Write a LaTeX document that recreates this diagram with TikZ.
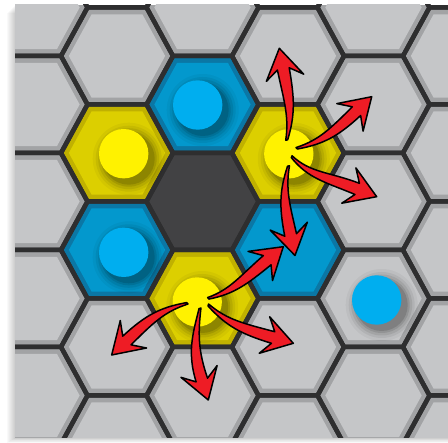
\documentclass[tikz,border=0pt]{standalone}
\usetikzlibrary{calc}
\definecolor{face}{HTML}{C5C6C8}
\definecolor{bevel}{HTML}{A2A3A5}
\definecolor{edgec}{HTML}{2E2E2F}
\definecolor{yband}{HTML}{C0B100}
\definecolor{yface}{HTML}{DCCF00}
\definecolor{ypiece}{HTML}{FFF200}
\definecolor{bband}{HTML}{0B77A5}
\definecolor{bface}{HTML}{0398CD}
\definecolor{bpiece}{HTML}{00AEEF}
\definecolor{hole}{HTML}{424244}
\definecolor{arrowred}{HTML}{EE1C25}
\newcommand{\hexat}[3]{(#1-56*#3,#2) -- (#1-29.5*#3,#2-48.5*#3) -- (#1+29.5*#3,#2-48.5*#3) -- (#1+56*#3,#2) -- (#1+29.5*#3,#2+48.5*#3) -- (#1-29.5*#3,#2+48.5*#3) -- cycle}
\newcommand{\piece}[3]{%
  \foreach \r/\o in {36/0.04,33/0.06,30.5/0.08,28/0.1,26/0.13}{\fill[black,opacity=\o] (#1+5,#2+5) circle[radius=\r pt];}
  \fill[#3] (#1,#2) circle[radius=24.7pt];}
\newcommand{\redarrow}[6]{%
  \pgfmathsetmacro\du{(#1-#3)*cos(#5)+(#2-#4)*sin(#5)}%
  \pgfmathsetmacro\dv{-(#1-#3)*sin(#5)+(#2-#4)*cos(#5)}%
  \pgfmathsetmacro\ca{0.45*\du-11}%
  \pgfmathsetmacro\cb{0.75*\du}%
  \pgfmathsetmacro\cv{0.6*\dv+#6}%
  \pgfmathsetmacro\rot{0-(#5)}%
  \begin{scope}[shift={(#3,#4)},rotate=\rot]
    \filldraw[redarr] (0,0) -- (-30,-19) -- (-21,-6)
      .. controls (\ca,-5.5) and (\cb,\cv-3) .. (\du,\dv-1)
      -- (\du,\dv+1)
      .. controls (\cb,\cv+3) and (\ca,5.5) .. (-21,6)
      -- (-30,19) -- cycle;
  \end{scope}}
\tikzset{redarr/.style={fill=arrowred,draw=black,line width=1.5pt,line join=round}}
\begin{document}
\begin{tikzpicture}[x=1pt,y=-1pt]
\useasboundingbox (0,0) rectangle (448,443);
\fill[white] (0,0) rectangle (448,443);
\foreach \k in {1,...,8}{\fill[black,opacity=0.025] (15-\k,5+\k) rectangle (448,438+0.6*\k);}
\begin{scope}
\clip (15,5) rectangle (448,438);
\fill[bevel] (15,5) rectangle (448,438);
\foreach \cx/\oy in {31.5/104.5,117/153,202.5/104.5,288/153,373.5/104.5,459/153}{
  \foreach \n in {-2,...,3}{
    \pgfmathsetmacro\cy{\oy+97*\n}
    \fill[face] \hexat{\cx}{\cy}{0.86};
  }}
\foreach \cx/\cy/\bc/\fc in {202.5/104.5/bband/bface,117/250/bband/bface,288/250/bband/bface,117/153/yband/yface,288/153/yband/yface,202.5/298.5/yband/yface}{
  \fill[\bc] \hexat{\cx}{\cy}{1};
  \fill[\fc] \hexat{\cx}{\cy}{0.86};
}
\fill[hole] \hexat{202.5}{201.5}{1};
\foreach \cx/\oy in {31.5/104.5,117/153,202.5/104.5,288/153,373.5/104.5,459/153}{
  \foreach \n in {-2,...,3}{
    \pgfmathsetmacro\cy{\oy+97*\n}
    \draw[edgec,line width=4.5pt] \hexat{\cx}{\cy}{1};
  }}
\piece{197.7}{105}{bpiece}
\piece{123.7}{153.7}{ypiece}
\piece{288.8}{153.8}{ypiece}
\piece{123.7}{252.3}{bpiece}
\piece{197.2}{302}{ypiece}
\piece{376.7}{300}{bpiece}
\redarrow{286.7}{140}{279.3}{48.3}{-101}{6}
\redarrow{296.7}{148.3}{371.7}{96.7}{-43.6}{7}
\redarrow{291.7}{156.7}{376.7}{196.7}{21.8}{9}
\redarrow{208.3}{298.3}{283.3}{246.7}{-40}{7}
\redarrow{187.3}{303.3}{111.7}{355}{136.3}{7}
\redarrow{200}{308.3}{208.3}{400}{72}{4}
\redarrow{208.3}{305}{293.3}{343.3}{16}{7}
\redarrow{288.5}{166}{295}{255.5}{78}{6}
\end{scope}
\end{tikzpicture}
\end{document}
